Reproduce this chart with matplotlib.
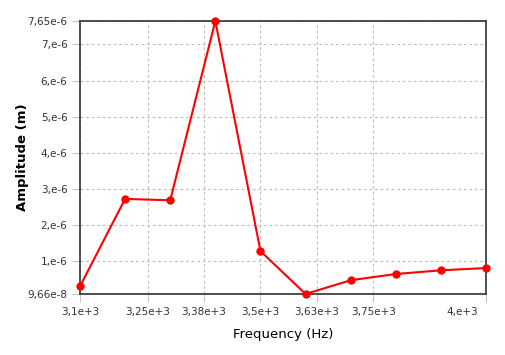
import matplotlib
matplotlib.use("Agg")
import matplotlib.pyplot as plt
from matplotlib.transforms import ScaledTranslation

# data
freq = [3100, 3200, 3300, 3400, 3500, 3600, 3700, 3800, 3900, 4000]
amp = [0.31e-6, 2.727e-6, 2.69e-6, 7.65e-6, 1.284e-6, 9.66e-8,
       0.477e-6, 0.65e-6, 0.752e-6, 0.815e-6]

xticks = [3100, 3250, 3375, 3500, 3625, 3750, 4000]
xlabels = ["3,1e+3", "3,25e+3", "3,38e+3", "3,5e+3", "3,63e+3", "3,75e+3", "4,e+3"]
yticks = [9.66e-8, 1e-6, 2e-6, 3e-6, 4e-6, 5e-6, 6e-6, 7e-6, 7.65e-6]
ylabels = ["9,66e-8", "1,e-6", "2,e-6", "3,e-6", "4,e-6", "5,e-6", "6,e-6", "7,e-6", "7,65e-6"]

fig = plt.figure(figsize=(5.06, 3.55), dpi=100)
ax = fig.add_axes([80/506, 61/355, 406/506, 273/355])

ax.plot(freq, amp, color="#ff0000", lw=1.5, marker="o", ms=5, zorder=3, clip_on=False)

ax.set_xlim(3100, 4000)
ax.set_ylim(9.66e-8, 7.65e-6)
ax.set_xticks(xticks)
ax.set_xticklabels(xlabels, fontsize=7.5, color="#333333")
ax.set_yticks(yticks)
ax.set_yticklabels(ylabels, fontsize=7.5, color="#333333")
ax.tick_params(length=6, color="#c4c4c4", width=0.8, pad=3)

# last x label sits left of its tick
lab = ax.get_xticklabels()[-1]
lab.set_transform(lab.get_transform() + ScaledTranslation(-24/100, 0, fig.dpi_scale_trans))

ax.grid(True, color="#bdbdbd", ls=(0, (2.5, 2.5)), lw=0.8)
for s in ax.spines.values():
    s.set_color("#404040")
    s.set_linewidth(1.3)

ax.set_xlabel("Frequency (Hz)", fontsize=9.5, labelpad=8)
ax.set_ylabel("Amplitude (m)", fontsize=9.5, fontweight="bold")
ax.yaxis.set_label_coords(-0.125, 0.5)

fig.savefig("out.png", dpi=100)
